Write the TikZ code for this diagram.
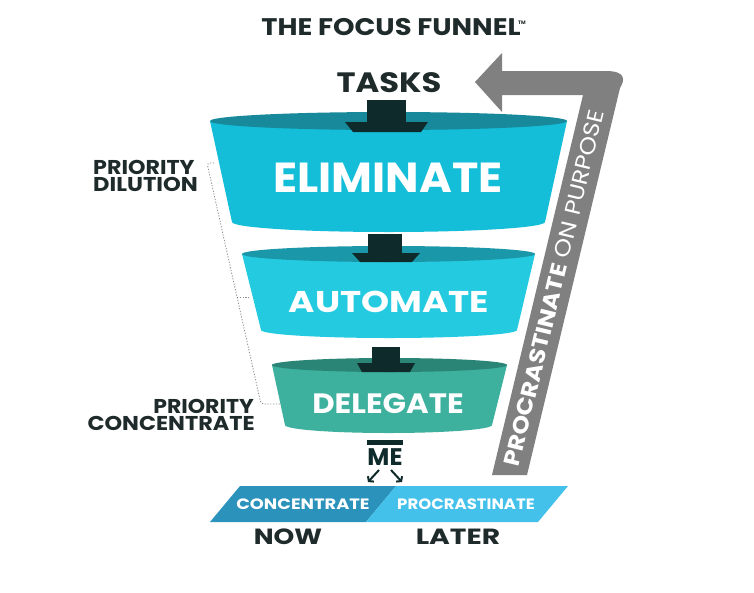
\documentclass[tikz,border=0pt]{standalone}
\usepackage{graphicx}
\usepackage{fontspec}
\setmainfont{Poppins}
\usetikzlibrary{arrows.meta}
\definecolor{ink}{HTML}{1F2A2A}
\definecolor{stem}{HTML}{0E2A2A}
\definecolor{elimBody}{HTML}{14BDD8}
\definecolor{elimTop}{HTML}{17899A}
\definecolor{autoBody}{HTML}{24CBE0}
\definecolor{autoTop}{HTML}{1A97A8}
\definecolor{delBody}{HTML}{3DB09E}
\definecolor{delTop}{HTML}{2A8576}
\definecolor{barDark}{HTML}{2B93BB}
\definecolor{barLight}{HTML}{43C1EA}
\definecolor{arrGray}{HTML}{808080}
\definecolor{dotGray}{HTML}{8A8A8A}
\newcommand\myfs[1]{\fontsize{#1}{#1}\selectfont}
\newcommand\sx[2]{\scalebox{#1}[1]{#2}}
\begin{document}
\begin{tikzpicture}[x=1pt,y=-1pt,
  lbl/.style={inner sep=0pt, anchor=base, text=ink},
  wlbl/.style={inner sep=0pt, anchor=base, text=white},
  dotline/.style={draw=dotGray, line width=0.8pt, dash pattern=on 1.2pt off 1.6pt},
  meArrow/.style={draw=stem, line width=2pt, -{Straight Barb[length=3pt,width=8pt]}}]
\useasboundingbox[fill=white] (0,0) rectangle (754,592);

% title
\node[lbl, font=\myfs{24}\bfseries] (title) at (391,35) {\sx{1.14}{THE FOCUS FUNNEL}};
\node[lbl, font=\myfs{5}\bfseries, anchor=base west] (tm) at (518,24) {TM};
\node[lbl, font=\myfs{28}\bfseries] (tasks) at (389,92) {\sx{1.15}{TASKS}};

% grey return arrow
\fill[arrGray] (475,82) -- (502,53) -- (502,71) -- (606,71)
  .. controls (626,71) and (625,80) .. (620,88) -- (527,475) -- (492,475)
  -- (583,95) -- (502,95) -- (502,112) -- cycle;
\node[inner sep=0pt, text=white, rotate=76.5, font=\myfs{22}] (pop) at (554,288)
  {\sx{1.13}{\bfseries PROCRASTINATE\mdseries\ ON PURPOSE}};

% eliminate
\fill[elimBody] (210,121) -- (232,222) arc[start angle=180,end angle=0,x radius=156.5,y radius=10] -- (567,121) -- cycle;
\fill[elimTop] (388.5,121) ellipse[x radius=178.5, y radius=9];
\node[wlbl, font=\myfs{42}\bfseries] (elim) at (388,192) {\sx{1.06}{ELIMINATE}};

% automate
\fill[autoBody] (242,254) -- (261,330) arc[start angle=180,end angle=0,x radius=128,y radius=8] -- (535,254) -- cycle;
\fill[autoTop] (388.5,254) ellipse[x radius=146.5, y radius=8];
\node[wlbl, font=\myfs{30}\bfseries] (auto) at (389,312) {\sx{1.19}{AUTOMATE}};

% delegate
\fill[delBody] (272,365) -- (285,425) arc[start angle=180,end angle=0,x radius=103.5,y radius=8] -- (507,365) -- cycle;
\fill[delTop] (389.5,365) ellipse[x radius=117.5, y radius=7];
\node[wlbl, font=\myfs{28}\bfseries] (deleg) at (388,413) {\sx{1.1}{DELEGATE}};

% stems
\fill[stem] (367,100) rectangle (406,123);
\fill[stem] (345,122) -- (428,122) -- (421,132) -- (353,132) -- cycle;
\fill[stem] (368,234) rectangle (402,254);
\fill[stem] (352,253) -- (420,253) -- (412,262) -- (360,262) -- cycle;
\fill[stem] (372,347) rectangle (400,364);
\fill[stem] (357,363) -- (415,363) -- (410,372) -- (362,372) -- cycle;

% ME
\fill[stem] (367,440) rectangle (403,445);
\node[lbl, font=\myfs{24}\bfseries, text=stem] (me) at (385,465) {ME};
\coordinate (la) at (379,470); \coordinate (lb) at (368,482);
\coordinate (ra) at (391,470); \coordinate (rb) at (402,482);
\draw[meArrow] (la) -- (lb);
\draw[meArrow] (ra) -- (rb);

% bottom bar
\fill[barDark] (240,486) -- (396,486) -- (366,522) -- (210,522) -- cycle;
\fill[barLight] (396,486) -- (568,486) -- (538,522) -- (366,522) -- cycle;
\node[wlbl, font=\myfs{15}\bfseries] (conc) at (303,509) {\sx{1.19}{CONCENTRATE}};
\node[wlbl, font=\myfs{15}\bfseries] (proc) at (466,509) {\sx{1.1}{PROCRASTINATE}};
\node[lbl, font=\myfs{22}\bfseries] (now) at (288,544) {\sx{1.2}{NOW}};
\node[lbl, font=\myfs{22}\bfseries] (later) at (458,544) {\sx{1.28}{LATER}};

% left labels
\node[lbl, font=\myfs{20}\bfseries, anchor=base west] (pd1) at (93,174) {\sx{1.11}{PRIORITY}};
\node[lbl, font=\myfs{20}\bfseries, anchor=base west] (pd2) at (93,191) {\sx{1.13}{DILUTION}};
\node[lbl, font=\myfs{20}\bfseries, anchor=base east] (pc1) at (254,413) {\sx{1.1}{PRIORITY}};
\node[lbl, font=\myfs{20}\bfseries, anchor=base east] (pc2) at (255,430) {\sx{1.12}{CONCENTRATE}};

% dotted bracket
\coordinate (bt) at (214,163);
\coordinate (bb) at (280,404);
\draw[dotline, rounded corners=3pt] (bt) -- (207,163) -- (261,404) -- (bb);
\coordinate (bm1) at (237,297); \coordinate (bm2) at (250,297);
\draw[dotline] (bm1) -- (bm2);
\end{tikzpicture}
\end{document}
